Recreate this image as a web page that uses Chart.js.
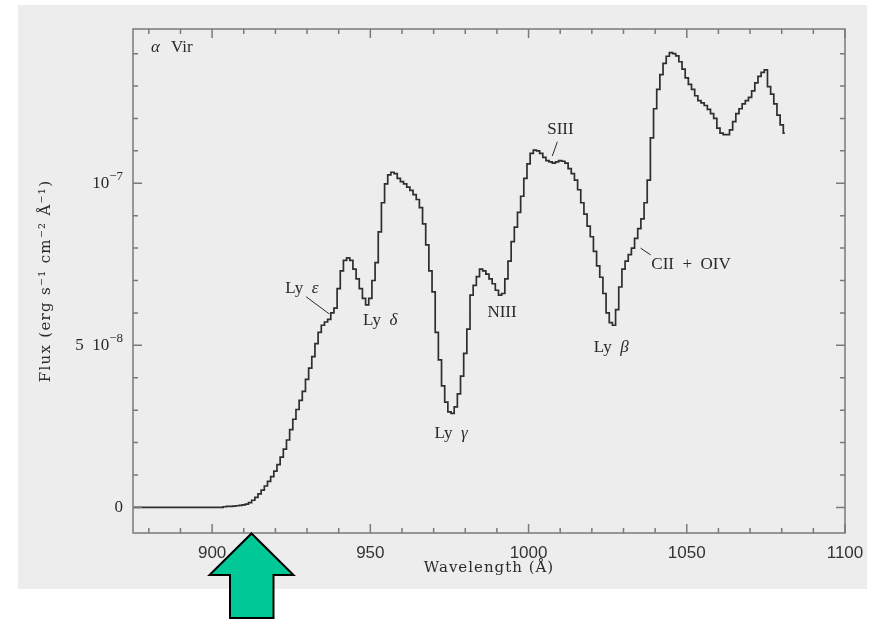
<!DOCTYPE html>
<html lang="en">
<head>
    <meta charset="UTF-8">
    <title>alpha Vir spectrum</title>
    <script src="https://cdn.jsdelivr.net/npm/chart.js"></script>
    <style>
        body {
            margin: 0;
            background: #ffffff;
        }
        #wrap {
            position: relative;
            width: 869px;
            height: 619px;
        }
        #arrow {
            position: absolute;
            left: 0;
            top: 0;
            pointer-events: none;
        }
    </style>
</head>
<body>
    <div id="wrap">
        <canvas id="chartFlux" width="869" height="619"></canvas>
        <svg id="arrow" width="869" height="619">
            <polygon points="251.5,533.5 293.5,575 273.5,575 273.5,618 230,618 230,575 209.5,575"
                     fill="#00c896" stroke="#000" stroke-width="2" stroke-linejoin="miter"/>
        </svg>
    </div>

    <script>
        // wavelength (A) and flux (units of 1e-8 erg s-1 cm-2 A-1)
        const wavelength = [
            875, 903, 904, 905, 906, 907, 908, 909, 910, 911, 912,
            913, 914, 915, 916, 917, 918, 919, 920, 921, 922,
            923, 924, 925, 926, 927, 928, 929, 930, 931, 932,
            933, 934, 935, 936, 937, 938, 939, 940, 941, 942,
            943, 944, 945, 946, 947, 948, 949, 950, 951, 952,
            953, 954, 955, 956, 957, 958, 959, 960, 961, 962,
            963, 964, 965, 966, 967, 968, 969, 970, 971, 972,
            973, 974, 975, 976, 977, 978, 979, 980, 981, 982,
            983, 984, 985, 986, 987, 988, 989, 990, 991, 992,
            993, 994, 995, 996, 997, 998, 999, 1000, 1001, 1002,
            1003, 1004, 1005, 1006, 1007, 1008, 1009, 1010, 1011, 1012,
            1013, 1014, 1015, 1016, 1017, 1018, 1019, 1020, 1021, 1022,
            1023, 1024, 1025, 1026, 1027, 1028, 1029, 1030, 1031, 1032,
            1033, 1034, 1035, 1036, 1037, 1038, 1039, 1040, 1041, 1042,
            1043, 1044, 1045, 1046, 1047, 1048, 1049, 1050, 1051, 1052,
            1053, 1054, 1055, 1056, 1057, 1058, 1059, 1060, 1061, 1062,
            1063, 1064, 1065, 1066, 1067, 1068, 1069, 1070, 1071, 1072,
            1073, 1074, 1075, 1076, 1077, 1078, 1079, 1080, 1081
        ];
        const flux = [
            0, 0, 0.02, 0.03, 0.03, 0.04, 0.05, 0.06, 0.08, 0.10, 0.15,
            0.22, 0.31, 0.42, 0.53, 0.66, 0.80, 0.95, 1.12, 1.32, 1.55,
            1.80, 2.08, 2.40, 2.72, 3.02, 3.30, 3.58, 3.95, 4.30, 4.65,
            5.05, 5.40, 5.62, 5.72, 5.80, 6.00, 6.15, 6.75, 7.30, 7.62,
            7.70, 7.62, 7.35, 7.05, 6.75, 6.45, 6.25, 6.45, 7.00, 7.55,
            8.50, 9.40, 9.98, 10.26, 10.34, 10.30, 10.15, 10.05, 9.98, 9.88,
            9.78, 9.65, 9.50, 9.25, 8.75, 8.10, 7.30, 6.65, 5.40, 4.55,
            3.75, 3.25, 2.95, 2.90, 3.10, 3.50, 4.05, 4.75, 5.50, 6.55,
            6.85, 7.12, 7.35, 7.30, 7.20, 7.05, 6.90, 6.70, 6.55, 6.60,
            7.05, 7.60, 8.20, 8.65, 9.10, 9.60, 10.15, 10.60, 10.92, 11.02,
            11.00, 10.92, 10.80, 10.70, 10.66, 10.62, 10.66, 10.70, 10.68, 10.62,
            10.45, 10.30, 10.10, 9.80, 9.40, 9.05, 8.68, 8.35, 7.90, 7.45,
            7.10, 6.60, 6.00, 5.70, 5.62, 6.10, 6.80, 7.35, 7.60, 7.80,
            8.00, 8.30, 8.60, 8.90, 9.40, 10.10, 11.40, 12.30, 12.90, 13.35,
            13.70, 13.92, 14.03, 14.00, 13.93, 13.75, 13.52, 13.25, 13.05, 12.90,
            12.70, 12.55, 12.48, 12.40, 12.28, 12.15, 12.00, 11.70, 11.55, 11.50,
            11.50, 11.65, 11.90, 12.15, 12.30, 12.45, 12.55, 12.65, 12.85, 13.10,
            13.30, 13.42, 13.50, 12.98, 12.75, 12.45, 12.10, 11.80, 11.55
        ];

        const xTicks = [900, 950, 1000, 1050, 1100];
        const yTicks = [0, 5, 10];
        // y tick labels: [mantissa part, exponent]
        const yTickLabels = [["0", ""], ["5  10", "\u22128"], ["10", "\u22127"]];
        const xTitle = "Wavelength (\u00C5)";
        const yTitle = "Flux (erg s\u207B\u00B9 cm\u207B\u00B2 \u00C5\u207B\u00B9)";

        // line identifications: text anchored in data coordinates (left edge, middle)
        const lineNames = [
            { text: "Ly  ", greek: "\u03B5", x: 923.1, y: 6.74 },
            { text: "Ly  ", greek: "\u03B4", x: 947.7, y: 5.78 },
            { text: "Ly  ", greek: "\u03B3", x: 970.3, y: 2.29 },
            { text: "NIII", greek: "", x: 987.0, y: 6.0 },
            { text: "SIII", greek: "", x: 1005.9, y: 11.67 },
            { text: "Ly  ", greek: "\u03B2", x: 1020.6, y: 4.92 },
            { text: "CII  +  OIV", greek: "", x: 1038.8, y: 7.48 }
        ];
        const leaders = [
            [929.7, 6.5, 937.0, 5.97],
            [1009.1, 11.28, 1007.5, 10.84],
            [1035.4, 8.0, 1038.6, 7.79]
        ];

        const serif = "'Liberation Serif', 'DejaVu Serif', serif";

        const framePlugin = {
            id: "frame",
            beforeDraw(chart) {
                const ctx = chart.ctx;
                ctx.save();
                ctx.fillStyle = "#ededed";
                ctx.fillRect(18, 5, 849, 584);
                ctx.restore();
            },
            afterDatasetsDraw(chart) {
                const ctx = chart.ctx;
                const { left, right, top, bottom } = chart.chartArea;
                const xs = chart.scales.x, ys = chart.scales.y;
                ctx.save();
                ctx.strokeStyle = "#7a7a7a";
                ctx.lineWidth = 1.5;
                ctx.strokeRect(left, top, right - left, bottom - top);
                ctx.beginPath();
                for (let v = 880; v <= 1100; v += 10) {
                    const px = xs.getPixelForValue(v);
                    const len = v % 50 === 0 ? 9 : 5;
                    ctx.moveTo(px, bottom); ctx.lineTo(px, bottom - len);
                    ctx.moveTo(px, top); ctx.lineTo(px, top + len);
                }
                for (let v = 0; v <= 14; v++) {
                    const py = ys.getPixelForValue(v);
                    const len = v % 5 === 0 ? 9 : 5;
                    ctx.moveTo(left, py); ctx.lineTo(left + len, py);
                    ctx.moveTo(right, py); ctx.lineTo(right - len, py);
                }
                ctx.stroke();
                ctx.restore();
            },
            afterDraw(chart) {
                const ctx = chart.ctx;
                const xs = chart.scales.x, ys = chart.scales.y;
                const { left, right, top, bottom } = chart.chartArea;
                ctx.save();
                ctx.fillStyle = "#2a2a2a";
                ctx.textBaseline = "middle";

                // y tick labels with raised exponents
                ctx.textAlign = "left";
                yTicks.forEach((v, i) => {
                    const [base, sup] = yTickLabels[i];
                    const py = ys.getPixelForValue(v);
                    ctx.font = "13px " + serif;
                    const ws = ctx.measureText(sup).width;
                    ctx.font = "17px " + serif;
                    const wb = ctx.measureText(base).width;
                    const xr = left - 10;
                    ctx.fillText(base, xr - ws - wb, py);
                    ctx.font = "13px " + serif;
                    ctx.fillText(sup, xr - ws, py - 7);
                });

                // axis titles, spaced out like the original plotting package
                ctx.letterSpacing = "1px";
                ctx.font = "15px 'DejaVu Serif', serif";
                ctx.textAlign = "center";
                ctx.fillText(xTitle, (left + right) / 2, 568);
                ctx.save();
                ctx.translate(46, (top + bottom) / 2);
                ctx.rotate(-Math.PI / 2);
                ctx.letterSpacing = "1.3px";
                ctx.fillText(yTitle, 0, 0);
                ctx.restore();
                ctx.letterSpacing = "0px";
                ctx.textAlign = "left";

                // star name
                let px = xs.getPixelForValue(880.7), py = ys.getPixelForValue(14.2);
                ctx.font = "italic 17px " + serif;
                ctx.fillText("\u03B1", px, py);
                ctx.font = "17px " + serif;
                ctx.fillText("Vir", px + 20, py);

                lineNames.forEach(n => {
                    const x0 = xs.getPixelForValue(n.x), y0 = ys.getPixelForValue(n.y);
                    ctx.font = "17px " + serif;
                    ctx.fillText(n.text, x0, y0);
                    if (n.greek) {
                        const w = ctx.measureText(n.text).width;
                        ctx.font = "italic 17px " + serif;
                        ctx.fillText(n.greek, x0 + w, y0);
                    }
                });

                ctx.strokeStyle = "#2a2a2a";
                ctx.lineWidth = 1;
                ctx.beginPath();
                leaders.forEach(l => {
                    ctx.moveTo(xs.getPixelForValue(l[0]), ys.getPixelForValue(l[1]));
                    ctx.lineTo(xs.getPixelForValue(l[2]), ys.getPixelForValue(l[3]));
                });
                ctx.stroke();
                ctx.restore();
            }
        };

        const points = wavelength.map((w, i) => ({ x: w, y: flux[i] }));

        new Chart(document.getElementById("chartFlux"), {
            type: "line",
            data: {
                datasets: [{
                    data: points,
                    borderColor: "#2e2e2e",
                    borderWidth: 1.7,
                    stepped: "middle",
                    pointRadius: 0,
                    fill: false
                }]
            },
            options: {
                responsive: false,
                animation: false,
                layout: { padding: { left: 18, top: 29, right: 24, bottom: 30 } },
                plugins: {
                    legend: { display: false },
                    tooltip: { enabled: false }
                },
                scales: {
                    x: {
                        type: "linear",
                        min: 875,
                        max: 1100,
                        grid: { display: false },
                        border: { display: false },
                        afterBuildTicks: s => { s.ticks = xTicks.map(v => ({ value: v })); },
                        afterFit: s => { s.height = 56; },
                        ticks: {
                            padding: 2,
                            color: "#333",
                            autoSkip: false,
                            maxRotation: 0,
                            font: { family: "'Liberation Sans', Arial, sans-serif", size: 17 },
                            callback: v => String(v)
                        }
                    },
                    y: {
                        type: "linear",
                        min: -0.79,
                        max: 14.76,
                        grid: { display: false },
                        border: { display: false },
                        afterBuildTicks: s => { s.ticks = yTicks.map(v => ({ value: v })); },
                        afterFit: s => { s.width = 115; },
                        ticks: { display: false }
                    }
                }
            },
            plugins: [framePlugin]
        });
    </script>
</body>
</html>
